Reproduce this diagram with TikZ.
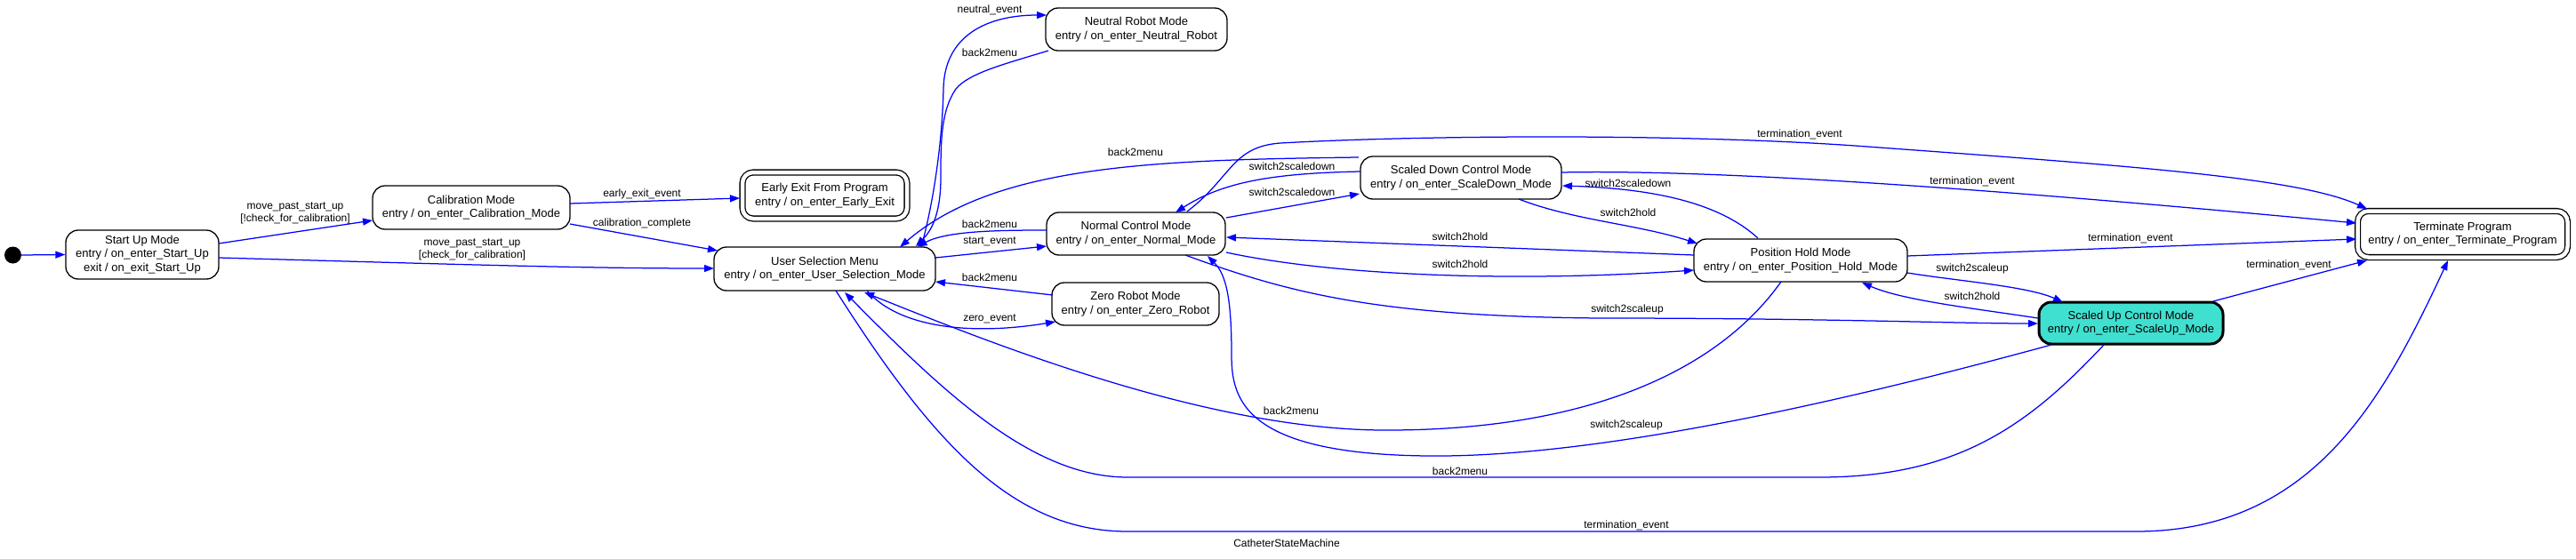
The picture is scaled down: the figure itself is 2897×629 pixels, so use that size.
\documentclass[tikz,border=0pt]{standalone}
\usepackage{fontspec}
\setmainfont{Liberation Sans}
\usetikzlibrary{arrows.meta,calc}
\definecolor{turq}{HTML}{40E0D0}
\definecolor{edgeblue}{HTML}{0000FF}
\newcommand{\nfont}{\fontsize{13}{15.5}\selectfont}
\newcommand{\lfont}{\fontsize{12}{13.5}\selectfont}
\begin{document}
\begin{tikzpicture}[x=1pt,y=-1pt,
  state/.style={draw=black, line width=1.3pt, rounded corners=14pt, inner sep=0pt,
    align=center, font=\nfont, fill=white},
  final/.style={state, double, double distance=4.5pt, rounded corners=12pt},
  dot/.style={circle, fill=black, minimum size=19pt, inner sep=0pt},
  tr/.style={draw=edgeblue, line width=1.25pt, -{Triangle[length=11pt,width=8pt]}},
  lbl/.style={font=\lfont, inner sep=0pt, align=center}]
\useasboundingbox (0,0) rectangle (2897,629);

% states
\node[dot] (init) at (14.5,287) {};
\node[state, minimum width=172pt, minimum height=55pt] (startup) at (160,286.5)
  {Start Up Mode\\entry / on\_enter\_Start\_Up\\exit / on\_exit\_Start\_Up};
\node[state, minimum width=222pt, minimum height=49pt] (calib) at (530,233.5)
  {Calibration Mode\\entry / on\_enter\_Calibration\_Mode};
\node[final, minimum width=185pt, minimum height=52pt] (early) at (927.5,220)
  {Early Exit From Program\\entry / on\_enter\_Early\_Exit};
\node[state, minimum width=249pt, minimum height=49pt] (menu) at (927.5,302.5)
  {User Selection Menu\\entry / on\_enter\_User\_Selection\_Mode};
\node[state, minimum width=204pt, minimum height=48pt] (neutral) at (1278,33)
  {Neutral Robot Mode\\entry / on\_enter\_Neutral\_Robot};
\node[state, minimum width=201pt, minimum height=48pt] (normal) at (1277.5,263)
  {Normal Control Mode\\entry / on\_enter\_Normal\_Mode};
\node[state, minimum width=188pt, minimum height=48pt] (zero) at (1277,342)
  {Zero Robot Mode\\entry / on\_enter\_Zero\_Robot};
\node[state, minimum width=226pt, minimum height=48pt] (scaleddown) at (1643,200)
  {Scaled Down Control Mode\\entry / on\_enter\_ScaleDown\_Mode};
\node[state, minimum width=240pt, minimum height=48pt] (hold) at (2025,293)
  {Position Hold Mode\\entry / on\_enter\_Position\_Hold\_Mode};
\node[state, line width=3pt, fill=turq, minimum width=207pt, minimum height=47pt] (scaledup) at (2396.5,363.5)
  {Scaled Up Control Mode\\entry / on\_enter\_ScaleUp\_Mode};
\node[final, minimum width=236pt, minimum height=52pt] (terminate) at (2769.5,263.5)
  {Terminate Program\\entry / on\_enter\_Terminate\_Program};

% transitions
\draw[tr] (init.east) -- (startup.west);
\draw[tr] ($(startup)+(86,-12.5)$) -- ($(calib)+(-111,14.5)$);
\draw[tr] ($(startup)+(86,3.5)$) .. controls (500,297) and (650,302) .. ($(menu)+(-124.5,-0.5)$);
\draw[tr] ($(calib)+(111,-4.5)$) -- ($(early)+(-95.5,3)$);
\draw[tr] ($(calib)+(111,18.5)$) -- ($(menu)+(-120.5,-20.5)$);
\draw[tr] ($(menu)+(108.5,-24.5)$) .. controls (1052,220) and (1060,150) .. (1061,100)
  .. controls (1062,40) and (1110,17) .. ($(neutral)+(-101,-16)$);
\draw[tr] ($(neutral)+(-99,24)$) .. controls (1130,72) and (1090,82) .. (1075,100)
  .. controls (1058,125) and (1058,160) .. (1058,200)
  .. controls (1058,245) and (1045,262) .. ($(menu)+(102.5,-25.5)$);
\draw[tr] ($(menu)+(124.5,-12.5)$) -- ($(normal)+(-100.5,14)$);
\draw[tr] ($(normal)+(-100.5,-4)$) .. controls (1120,259) and (1065,260) .. ($(menu)+(104,-25)$);
\draw[tr] ($(menu)+(47.5,24.5)$) .. controls (1010,368) and (1090,378) .. ($(zero)+(-90,20)$);
\draw[tr] ($(zero)+(-93,-10)$) -- ($(menu)+(124.5,14.5)$);
\draw[tr] ($(scaleddown)+(-115,-23)$) .. controls (1300,180) and (1120,185) .. ($(menu)+(84.5,-24.5)$);
\draw[tr] ($(normal)+(57.5,-25)$) .. controls (1385,200) and (1385,165) .. (1440,161)
  .. controls (1600,152) and (1900,150) .. (2100,165)
  .. controls (2400,187) and (2585,200) .. ($(terminate)+(-107.5,-28.5)$);
\draw[tr] ($(scaleddown)+(-113,-7)$) .. controls (1430,195) and (1375,205) .. ($(normal)+(44.5,-24)$);
\draw[tr] ($(normal)+(101.5,-18)$) -- ($(scaleddown)+(-114,18)$);
\draw[tr] ($(scaleddown)+(113,-6)$) .. controls (1950,190) and (2300,218) .. ($(terminate)+(-119.5,-12.5)$);
\draw[tr] ($(hold)+(-48,-25)$) .. controls (1930,225) and (1850,212) .. ($(scaleddown)+(114,9)$);
\draw[tr] ($(scaleddown)+(65,24)$) .. controls (1770,248) and (1840,252) .. ($(hold)+(-116,-19)$);
\draw[tr] ($(hold)+(-120,-6)$) -- ($(normal)+(101.5,4)$);
\draw[tr] ($(normal)+(101.5,21)$) .. controls (1500,310) and (1700,318) .. ($(hold)+(-120,11)$);
\draw[tr] ($(normal)+(55.5,24)$) .. controls (1450,330) and (1550,356) .. (1800,358)
  .. controls (2050,358) and (2200,364) .. ($(scaledup)+(-104.5,0.5)$);
\draw[tr] ($(hold)+(120,14)$) .. controls (2200,316) and (2280,322) .. ($(scaledup)+(-76.5,-23.5)$);
\draw[tr] ($(scaledup)+(-104.5,-5.5)$) .. controls (2220,347) and (2140,338) .. ($(hold)+(69,25)$);
\draw[tr] ($(hold)+(120,-5)$) -- ($(terminate)+(-119.5,5.5)$);
\draw[tr] ($(scaledup)+(92.5,-24.5)$) -- ($(terminate)+(-107.5,29.5)$);
\draw[tr] ($(hold)+(-22,24)$) .. controls (1930,420) and (1780,485) .. (1555,484)
  .. controls (1350,483) and (1100,380) .. ($(menu)+(44.5,26.5)$);
\draw[tr] ($(scaledup)+(-89.5,24.5)$) .. controls (2080,450) and (1800,515) .. (1606,513)
  .. controls (1400,511) and (1385,450) .. (1385,400)
  .. controls (1385,340) and (1380,310) .. ($(normal)+(80.5,25)$);
\draw[tr] ($(scaledup)+(-30.5,24.5)$) .. controls (2280,480) and (2200,537) .. (2046,537)
  -- (1268,537) .. controls (1160,537) and (1060,440) .. ($(menu)+(22.5,26.5)$);
\draw[tr] ($(menu)+(12.5,24.5)$) .. controls (1050,500) and (1140,598) .. (1268,598)
  -- (2402,598) .. controls (2600,598) and (2680,450) .. ($(terminate)+(-16.5,29.5)$);

% labels
\node[lbl] (l2) at (332,240) {move\_past\_start\_up\\{[}!check\_for\_calibration{]}};
\node[lbl] (l3) at (531,281) {move\_past\_start\_up\\{[}check\_for\_calibration{]}};
\node[lbl] (l4) at (722,218) {early\_exit\_event};
\node[lbl] (l5) at (722,251) {calibration\_complete};
\node[lbl] (l6) at (1113,11) {neutral\_event};
\node[lbl] (l7) at (1113,59) {back2menu};
\node[lbl] (l12) at (1277,171) {back2menu};
\node[lbl] (l9) at (1113,252) {back2menu};
\node[lbl] (l8) at (1113,272) {start\_event};
\node[lbl] (l11) at (1113,312) {back2menu};
\node[lbl] (l10) at (1113,359) {zero\_event};
\node[lbl] (l14) at (1453,187) {switch2scaledown};
\node[lbl] (l15) at (1453,216) {switch2scaledown};
\node[lbl] (l13) at (2024,151) {termination\_event};
\node[lbl] (l16) at (2218,204) {termination\_event};
\node[lbl] (l17) at (1831,206) {switch2scaledown};
\node[lbl] (l18) at (1831,239) {switch2hold};
\node[lbl] (l19) at (1642,266) {switch2hold};
\node[lbl] (l20) at (1642,297) {switch2hold};
\node[lbl] (l21) at (1830,348) {switch2scaleup};
\node[lbl] (l24) at (2396,268) {termination\_event};
\node[lbl] (l22) at (2218,302) {switch2scaleup};
\node[lbl] (l23) at (2218,333) {switch2hold};
\node[lbl] (l25) at (2574,298) {termination\_event};
\node[lbl] (l26) at (1452,462) {back2menu};
\node[lbl] (l27) at (1829,478) {switch2scaleup};
\node[lbl] (l28) at (1642,530) {back2menu};
\node[lbl] (l29) at (1829,591) {termination\_event};
\node[lbl] (title) at (1447,611) {CatheterStateMachine};
\end{tikzpicture}
\end{document}
